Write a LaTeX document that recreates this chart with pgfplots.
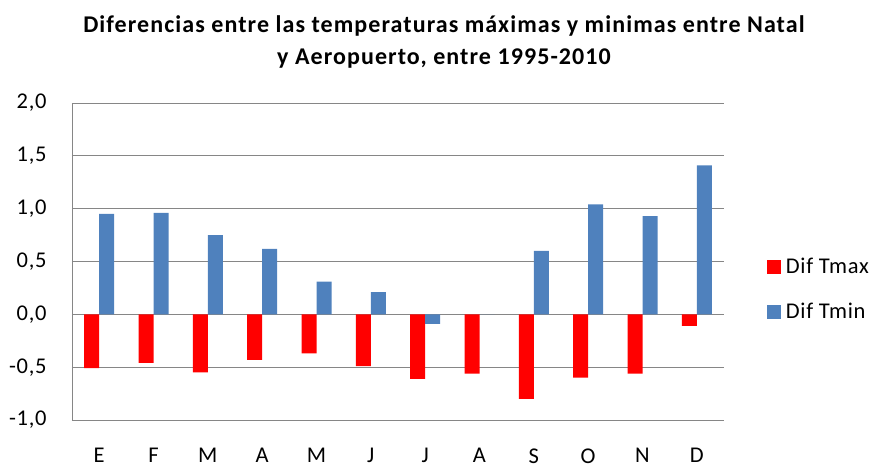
\documentclass[border=0pt]{standalone}
\usepackage{fontspec}
\setmainfont{Carlito}[LetterSpace=3]
\newfontfamily\titlefont{Carlito}[LetterSpace=4.5]
\usepackage{pgfplots}
\pgfplotsset{compat=1.18}
\definecolor{tmaxred}{HTML}{FF0000}
\definecolor{tminblue}{HTML}{4F81BD}
\definecolor{gridgray}{HTML}{868686}
\begin{document}
\begin{tikzpicture}
\useasboundingbox (-72pt,-50pt) rectangle (806pt,420pt);
\begin{axis}[
    scale only axis,
    width=652pt, height=317pt,
    ybar, bar width=15pt, ybar=0pt,
    xmin=-0.5, xmax=11.5,
    ymin=-1, ymax=2,
    ytick={-1,-0.5,0,0.5,1,1.5,2},
    xtick=data,
    xticklabels={E,F,M,A,M,J,J,A,S,O,N,D},
    major tick length=0pt,
    axis lines*=left,
    x axis line style={draw=none},
    y axis line style={gridgray},
    ymajorgrids,
    grid style={gridgray, line width=0.8pt},
    font=\fontsize{22.5}{26}\selectfont,
    /pgf/number format/assume math mode=true,
    yticklabel style={/pgf/number format/.cd, fixed, fixed zerofill, precision=1, use comma, /tikz/.cd, xshift=-22pt},
    xticklabel style={yshift=-25pt},
    legend style={at={(rel axis cs:1.061,0.412)}, anchor=west, draw=none, fill=none,
        row sep=24pt, column sep=3pt, font=\fontsize{22.5}{26}\selectfont},
    legend cell align=left,
    legend image code/.code={\fill[#1] (0pt,-7pt) rectangle (14pt,7pt);},
]
\addplot[fill=tmaxred, draw=none] coordinates {
    (0,-0.51) (1,-0.46) (2,-0.55) (3,-0.43) (4,-0.37) (5,-0.49)
    (6,-0.61) (7,-0.56) (8,-0.80) (9,-0.60) (10,-0.56) (11,-0.11)
};
\addplot[fill=tminblue, draw=none] coordinates {
    (0,0.95) (1,0.96) (2,0.75) (3,0.62) (4,0.31) (5,0.21)
    (6,-0.09) (7,0) (8,0.60) (9,1.04) (10,0.93) (11,1.41)
};
\legend{Dif Tmax, Dif Tmin}
\end{axis}
\node[font=\titlefont\bfseries\fontsize{24}{31.5}\selectfont, align=center] at (372pt,378pt)
    {Diferencias entre las temperaturas máximas y minimas entre Natal\\y Aeropuerto, entre 1995-2010};
\end{tikzpicture}
\end{document}
